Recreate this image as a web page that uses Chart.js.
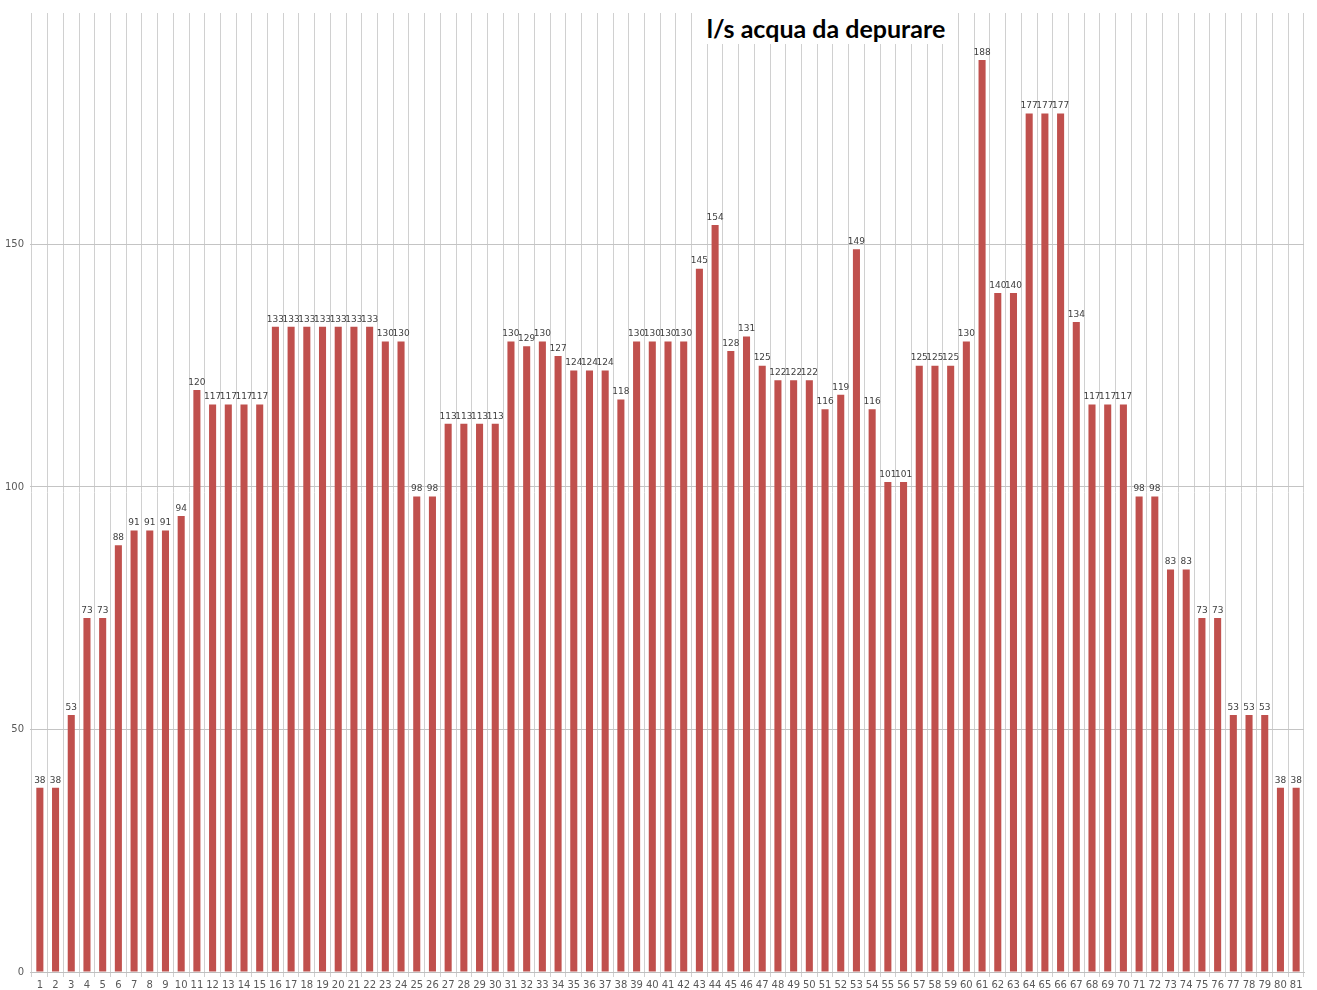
<!DOCTYPE html>
<html>
<head>
<meta charset="utf-8">
<script src="https://cdn.jsdelivr.net/npm/chart.js@4"></script>
<style>
  html, body { margin: 0; padding: 0; background: #fff; }
  #wrap { position: relative; width: 1317px; height: 990px; }
  #title {
    position: absolute; left: 695px; top: 13px; width: 262px; height: 31px;
    background: #fff; font-family: Lato, "Open Sans", sans-serif; font-weight: bold;
    font-size: 25px; line-height: 31px; color: #000; text-align: center; overflow: visible;
  }
</style>
</head>
<body>
<div id="wrap">
  <canvas id="chart" width="1317" height="990"></canvas>
  <div id="title">l/s acqua da depurare</div>
</div>
<script>
// categories 1..81
const categories = [];
for (let i = 1; i <= 81; i++) categories.push(String(i));

// l/s values
const flowValues = [
  38, 38, 53, 73, 73, 88, 91, 91, 91, 94,
  120, 117, 117, 117, 117, 133, 133, 133, 133, 133,
  133, 133, 130, 130, 98, 98, 113, 113, 113, 113,
  130, 129, 130, 127, 124, 124, 124, 118, 130, 130,
  130, 130, 145, 154, 128, 131, 125, 122, 122, 122,
  116, 119, 149, 116, 101, 101, 125, 125, 125, 130,
  188, 140, 140, 177, 177, 177, 134, 117, 117, 117,
  98, 98, 83, 83, 73, 73, 53, 53, 53, 38,
  38
];

const yTicks = [0, 50, 100, 150];

// draws the value above every bar
const barLabels = {
  id: "barLabels",
  afterDatasetsDraw(chart) {
    const ctx = chart.ctx;
    const meta = chart.getDatasetMeta(0);
    ctx.save();
    ctx.font = "9px 'DejaVu Sans', sans-serif";
    ctx.fillStyle = "#404040";
    ctx.textAlign = "center";
    ctx.textBaseline = "bottom";
    meta.data.forEach((bar, i) => {
      ctx.fillText(flowValues[i], bar.x, bar.y - 3);
    });
    ctx.restore();
  }
};

new Chart(document.getElementById("chart"), {
  type: "bar",
  data: {
    labels: categories,
    datasets: [{
      data: flowValues,
      backgroundColor: "#C0504D",
      categoryPercentage: 1,
      barPercentage: 0.45
    }]
  },
  options: {
    responsive: false,
    animation: false,
    layout: { padding: { top: 13, right: 13, left: 0, bottom: 0 } },
    plugins: { legend: { display: false }, tooltip: { enabled: false } },
    scales: {
      x: {
        grid: { color: "#d0d0d0", tickLength: 5, offset: true },
        border: { color: "#bfbfbf" },
        ticks: {
          font: { size: 10, family: "'DejaVu Sans', sans-serif" },
          color: "#595959", padding: 2, maxRotation: 0, autoSkip: false
        },
        afterFit(scale) { scale.height = 18; }
      },
      y: {
        min: 0,
        max: 197.7,
        grid: { color: "#c4c4c4", drawTicks: true, tickLength: 2 },
        border: { display: false },
        afterBuildTicks(scale) { scale.ticks = yTicks.map(v => ({ value: v })); },
        ticks: {
          font: { size: 10, family: "'DejaVu Sans', sans-serif" },
          color: "#595959", padding: 6
        },
        afterFit(scale) { scale.width = 32; }
      }
    }
  },
  plugins: [barLabels]
});
</script>
</body>
</html>
